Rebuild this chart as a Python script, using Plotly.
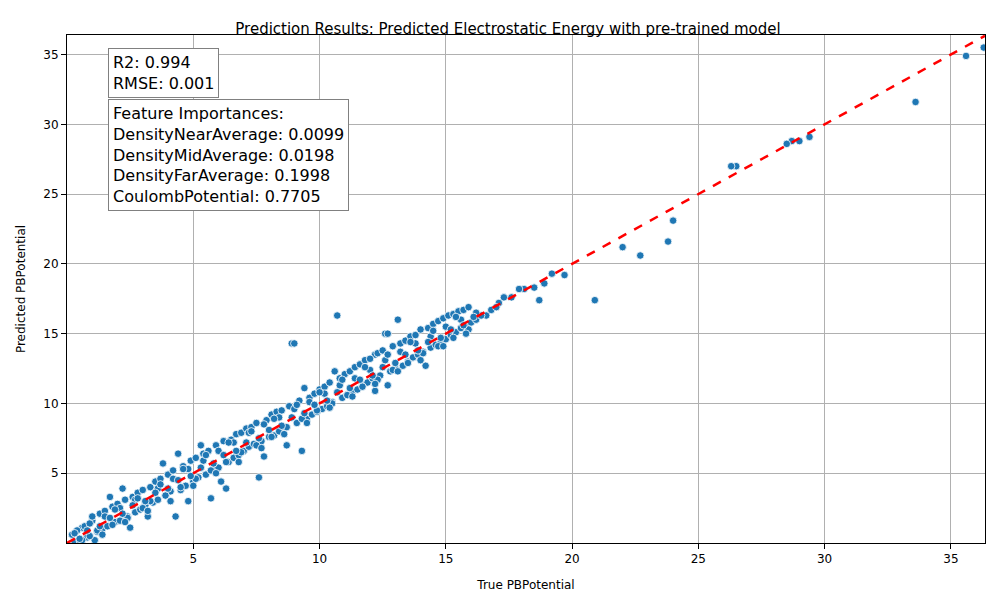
import plotly.graph_objects as go

# true vs predicted PBPotential
true_vals = [
    36.3, 35.6, 33.6, 29.4, 29.0, 28.7, 28.5, 26.5, 26.3, 24.0, 23.8, 22.7, 22.0, 20.9,
    19.7, 19.2, 18.9, 18.7, 18.5, 18.1, 17.9, 17.6, 17.3, 17.1, 16.6, 10.7, 13.1, 8.9,
    9.0, 12.6, 12.7, 9.3, 7.6, 5.7, 6.3, 4.3, 3.8, 4.4, 5.3, 9.4, 10.6, 12.2, 12.2,
    12.7, 14.2, 8.7, 7.8, 6.1, 2.2, 1.7, 4.8, 3.2, 2.5, 1.1, 0.6, 0.3, 0.8,
    0.2, 0.4, 0.5, 0.7, 0.9, 1.0, 1.2, 1.3, 1.4, 1.5, 1.6, 1.8, 1.9, 2.0,
    2.1, 2.3, 2.4, 2.6, 2.7, 2.8, 2.9, 3.0, 3.1, 3.3, 3.4, 3.5, 3.6, 3.7,
    3.9, 4.0, 4.1, 4.2, 4.5, 4.6, 4.7, 4.9, 5.0, 5.1, 5.2, 5.4, 5.5, 5.6,
    5.8, 5.9, 6.0, 6.2, 6.4, 6.5, 6.6, 6.7, 6.8, 6.9, 7.0, 7.1, 7.2, 7.3,
    7.4, 7.5, 7.7, 7.9, 8.0, 8.1, 8.2, 8.3, 8.4, 8.5, 8.6, 8.8, 9.1, 9.2,
    9.5, 9.6, 9.7, 9.8, 9.9, 10.0, 10.1, 10.2, 10.3, 10.4, 10.5, 10.8, 10.9, 11.0,
    11.1, 11.2, 11.3, 11.4, 11.5, 11.6, 11.7, 11.8, 11.9, 12.0, 12.1, 12.3, 12.4, 12.5,
    12.8, 12.9, 13.0, 13.2, 13.3, 13.4, 13.5, 13.6, 13.7, 13.8, 13.9, 14.0, 14.1, 14.3,
    14.4, 14.5, 14.6, 14.7, 14.8, 14.9, 15.0, 15.1, 15.2, 15.3, 15.4, 15.5, 15.6, 15.7,
    15.8, 15.9, 16.0, 16.2, 16.4, 16.8, 17.0,
    0.3, 0.6, 0.9, 1.2, 1.5, 1.8, 2.1, 2.4, 2.7, 3.0, 3.3, 3.6, 3.9, 4.2,
    4.5, 4.8, 5.1, 5.4, 5.7, 6.0, 6.3, 6.6, 6.9, 7.2, 7.5, 7.8, 8.1, 8.4,
    8.7, 9.0, 9.3, 9.6, 9.9, 10.2, 10.5, 10.8, 11.1, 11.4, 11.7, 12.0, 12.3, 12.6,
    12.9, 13.2, 13.5, 13.8, 14.1, 14.4, 14.7, 15.0, 15.3, 15.6, 15.9, 16.2,
    0.5, 1.0, 1.4, 1.9, 2.3, 2.8, 3.2, 3.7, 4.1, 4.6, 5.0, 5.5, 5.9, 6.4,
    6.8, 7.3, 7.7, 8.2, 8.6, 9.1, 9.5, 10.0, 10.4, 10.9, 11.3, 11.8, 12.2, 12.7,
    13.1, 13.6, 14.0, 14.5, 14.9, 15.4, 15.8,
    0.8, 1.3, 1.7, 2.2, 2.6, 3.1, 3.5, 4.0, 4.4, 4.9, 5.3, 5.8, 6.2, 6.7,
    7.1, 7.6, 8.0, 8.5, 8.9, 9.4, 9.8, 10.3, 10.7, 11.2, 11.6, 12.1, 12.5, 13.0,
    13.4, 13.9, 14.3, 14.8, 15.2, 15.7, 16.1,
]
pred_vals = [
    35.5, 34.9, 31.6, 29.1, 28.8, 28.8, 28.6, 27.0, 27.0, 23.1, 21.6, 20.6, 21.2, 17.4,
    19.2, 19.3, 18.6, 17.4, 18.3, 18.2, 18.2, 17.6, 17.6, 17.2, 16.3, 16.3, 16.0, 14.3,
    14.3, 15.0, 15.0, 6.6, 4.7, 3.2, 3.9, 1.9, 5.7, 6.4, 7.0, 11.1, 12.3, 13.5, 10.9,
    11.3, 12.7, 7.0, 6.2, 4.4, 3.9, 3.3, 3.0, 1.9, 1.1, 0.2, 1.1, 0.1, 0.4,
    0.6, 0.9, 0.2, 1.2, 0.5, 1.6, 0.8, 2.1, 1.0, 2.3, 1.2, 2.6, 1.5, 2.8,
    1.6, 3.1, 1.9, 3.3, 2.2, 3.6, 2.4, 3.8, 2.7, 4.0, 2.9, 4.4, 3.1, 4.6,
    3.4, 4.9, 3.7, 5.2, 3.8, 5.5, 4.1, 5.9, 4.4, 6.1, 4.7, 6.4, 4.9, 6.6,
    5.3, 7.0, 5.4, 7.3, 5.8, 7.4, 6.1, 7.8, 6.3, 7.9, 6.6, 8.2, 6.9, 8.3,
    7.1, 8.6, 7.3, 8.8, 7.6, 9.2, 7.7, 9.4, 8.0, 9.5, 8.3, 9.8, 8.6, 10.2,
    8.9, 10.4, 9.2, 10.7, 9.4, 11.0, 9.6, 11.2, 9.8, 11.5, 10.1, 11.8, 10.4, 12.1,
    10.6, 12.3, 10.8, 12.6, 11.0, 12.8, 11.3, 13.1, 11.5, 13.2, 11.8, 13.6, 12.0, 13.8,
    12.3, 14.1, 12.5, 14.3, 12.7, 14.5, 13.0, 14.8, 13.3, 14.9, 13.5, 15.3, 13.7, 15.4,
    14.0, 15.7, 14.2, 15.9, 14.4, 16.1, 14.6, 16.3, 14.9, 16.4, 15.1, 16.6, 15.4, 16.7,
    15.6, 16.9, 15.8, 16.0, 16.3, 16.7, 16.9,
    0.7, 0.2, 1.4, 0.9, 1.9, 1.3, 2.5, 1.8, 3.1, 2.5, 3.0, 3.9, 3.4, 4.6,
    4.0, 5.3, 4.6, 5.9, 5.2, 6.6, 5.8, 7.2, 6.5, 7.9, 7.0, 8.5, 7.6, 9.0,
    8.3, 9.6, 8.9, 10.1, 9.5, 10.7, 10.0, 11.3, 10.6, 11.8, 11.2, 12.4, 11.7, 13.1,
    12.4, 13.7, 12.9, 14.3, 13.6, 14.8, 14.1, 15.5, 14.7, 16.0, 15.3, 16.5,
    0.3, 1.9, 0.6, 2.4, 1.5, 3.2, 2.3, 4.2, 3.0, 5.3, 4.1, 6.3, 5.0, 7.2,
    5.8, 8.0, 6.8, 8.9, 7.8, 9.9, 8.6, 10.8, 9.7, 11.7, 10.5, 12.6, 11.4, 13.5,
    12.3, 14.4, 13.1, 15.2, 14.1, 16.2, 15.0,
    0.9, 1.2, 1.8, 2.1, 2.7, 3.0, 3.6, 3.9, 4.5, 4.8, 5.4, 5.7, 6.3, 6.6,
    7.2, 7.5, 8.1, 8.4, 9.0, 9.3, 9.9, 10.2, 10.8, 11.1, 11.7, 12.0, 12.6, 12.9,
    13.5, 13.8, 14.4, 14.7, 15.3, 15.6, 16.2,
]
fi_names = ["DensityNearAverage", "DensityMidAverage", "DensityFarAverage", "CoulombPotential"]
fi_values = [0.0099, 0.0198, 0.1998, 0.7705]
r2 = 0.994
rmse = 0.001
x_range = [0.0, 36.35]
y_range = [0.0, 36.4]

fig = go.Figure()
fig.add_trace(go.Scatter(
    x=true_vals, y=pred_vals, mode="markers",
    marker=dict(size=7.5, color="#1f77b4", line=dict(color="white", width=0.8)),
    showlegend=False,
))
fig.add_trace(go.Scatter(
    x=x_range, y=x_range, mode="lines",
    line=dict(color="red", width=2.5, dash="dash"), showlegend=False,
))

fi_text = "<br>".join(["Feature Importances:"] + [f"{n}: {v:.4f}" for n, v in zip(fi_names, fi_values)])
box = dict(xref="paper", yref="paper", showarrow=False, xanchor="left", yanchor="top",
           align="left", bgcolor="white", bordercolor="#808080", borderwidth=1, borderpad=4,
           font=dict(size=16, color="black"))
fig.add_annotation(x=0.045, y=0.975, text=f"R2: {r2:.3f}<br>RMSE: {rmse:.3f}", **box)
fig.add_annotation(x=0.045, y=0.875, text=fi_text, **box)

axis = dict(showgrid=True, gridcolor="#b0b0b0", showline=True, linecolor="black", mirror=True,
            ticks="outside", tickcolor="black", zeroline=False, tickvals=[5, 10, 15, 20, 25, 30, 35],
            tickfont=dict(size=12))
fig.update_layout(
    width=1000, height=600,
    paper_bgcolor="white", plot_bgcolor="white",
    font=dict(family="DejaVu Sans", color="black"),
    margin=dict(l=54, r=23, t=27, b=65),
    title=dict(text="Prediction Results: Predicted Electrostatic Energy with pre-trained model",
               x=0.5, xanchor="center", y=0.975, font=dict(size=15)),
    xaxis=dict(axis, range=x_range, title=dict(text="True PBPotential", font=dict(size=12))),
    yaxis=dict(axis, range=y_range, title=dict(text="Predicted PBPotential", font=dict(size=12))),
)
fig.write_html("out.html")
